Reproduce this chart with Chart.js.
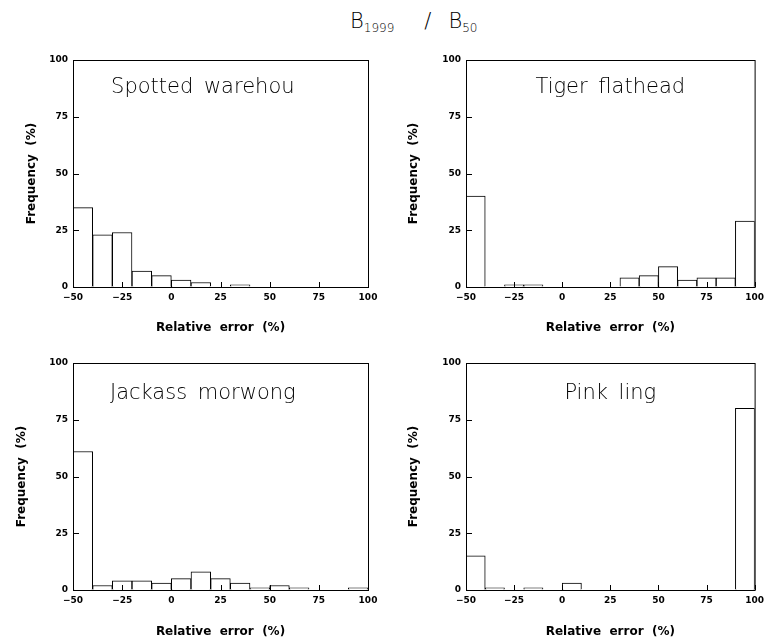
<!DOCTYPE html>
<html><head><meta charset="utf-8">
<script src="https://cdn.jsdelivr.net/npm/chart.js@4.4.1/dist/chart.umd.min.js"></script>
<style>
html,body{margin:0;padding:0;background:#fff;}
#page{position:relative;width:769px;height:644px;overflow:hidden;background:#fff;}
canvas{position:absolute;}
#title{position:absolute;left:350px;top:9px;font-family:"DejaVu Sans";font-weight:200;font-size:21px;color:#000;white-space:nowrap;line-height:normal;}
#title sub{font-size:12px;vertical-align:-4px;line-height:0;}
#title .sl{margin-left:30px;}
#title .b2{margin-left:17px;}
</style></head>
<body><div id="page">
<div id="title">B<sub>1999</sub><span class="sl">/</span><span class="b2">B</span><sub>50</sub></div>
<canvas id="c1" width="384" height="300" style="left:0;top:40px;width:384px;height:300px"></canvas>
<canvas id="c2" width="385" height="300" style="left:384px;top:40px;width:385px;height:300px"></canvas>
<canvas id="c3" width="384" height="304" style="left:0;top:340px;width:384px;height:304px"></canvas>
<canvas id="c4" width="385" height="304" style="left:384px;top:340px;width:385px;height:304px"></canvas>
</div>
<script>
// Bin centres of the relative-error histogram (%)
const binCenters = [-45, -35, -25, -15, -5, 5, 15, 25, 35, 45, 55, 65, 75, 85, 95];
// Frequencies (%) per bin
const spottedWarehou = [35, 23, 24, 7, 5, 3, 2, 0, 1, 0, 0, 0, 0, 0, 0];
const tigerFlathead  = [40, 0, 1, 1, 0, 0, 0, 0, 4, 5, 9, 3, 4, 4, 29];
const jackassMorwong = [61, 2, 4, 4, 3, 5, 8, 5, 3, 1, 2, 1, 0, 0, 1];
const pinkLing       = [15, 1, 0, 1, 0, 3, 0, 0, 0, 0, 0, 0, 0, 0, 80];
const speciesNames = ['Spotted warehou', 'Tiger flathead', 'Jackass morwong', 'Pink ling'];
const xTickValues = [-50, -25, 0, 25, 50, 75, 100];
const yTickValues = [0, 25, 50, 75, 100];
const xAxisTitle = 'Relative  error  (%)';
const yAxisTitle = 'Frequency  (%)';

const framePlugin = {
  id: 'frame',
  afterDraw(chart, args, opts) {
    const {ctx, chartArea: a, scales: {x, y}} = chart;
    ctx.save();
    ctx.strokeStyle = '#000';
    ctx.lineWidth = 1;
    ctx.strokeRect(a.left + 0.5, a.top + 0.5, a.right - a.left, a.bottom - a.top);
    ctx.beginPath();
    x.ticks.forEach(t => {
      const px = Math.round(x.getPixelForValue(t.value)) + 0.5;
      ctx.moveTo(px, a.bottom); ctx.lineTo(px, a.bottom - 5);
    });
    y.ticks.forEach(t => {
      const py = Math.round(y.getPixelForValue(t.value)) + 0.5;
      ctx.moveTo(a.left, py); ctx.lineTo(a.left + 6, py);
    });
    ctx.stroke();
    ctx.fillStyle = '#000';
    ctx.font = '200 21px "DejaVu Sans"';
    ctx.textAlign = 'center';
    ctx.textBaseline = 'alphabetic';
    try { ctx.wordSpacing = '4px'; } catch (e) {}
    ctx.fillText(opts.text, x.getPixelForValue(opts.atX), y.getPixelForValue(opts.atY));
    ctx.restore();
  }
};

function makeChart(id, values, name, cfg) {
  const data = binCenters.map((c, i) => ({x: c, y: values[i]}));
  return new Chart(document.getElementById(id), {
    type: 'bar',
    data: {datasets: [{
      data: data,
      backgroundColor: '#fff',
      borderColor: '#000',
      borderWidth: 1,
      barPercentage: 1,
      categoryPercentage: 1
    }]},
    options: {
      responsive: false,
      animation: false,
      events: [],
      layout: {padding: {left: 0, right: cfg.padRight, top: cfg.padTop, bottom: 0}},
      plugins: {
        legend: {display: false},
        tooltip: {enabled: false},
        frame: {text: name, atX: cfg.labelX, atY: cfg.labelY}
      },
      scales: {
        x: {
          type: 'linear', min: -50, max: 100, offset: false,
          afterBuildTicks: s => { s.ticks = xTickValues.map(v => ({value: v})); },
          afterFit: s => { s.height = cfg.xHeight; },
          grid: {display: true, drawOnChartArea: false, drawTicks: false},
          border: {display: true, color: '#000', width: 1},
          ticks: {
            padding: 5, maxRotation: 0, autoSkip: false, color: '#000',
            font: {family: 'DejaVu Sans', size: 9, weight: 'bold'},
            callback: v => String(v).replace('-', '\u2212')
          },
          title: {display: true, text: xAxisTitle, color: '#000',
            font: {family: 'DejaVu Sans', size: 12, weight: 'bold'},
            padding: {top: 0, bottom: 5}}
        },
        y: {
          type: 'linear', min: 0, max: 100,
          afterBuildTicks: s => { s.ticks = yTickValues.map(v => ({value: v})); },
          afterFit: s => { s.width = cfg.yWidth; },
          grid: {display: true, drawOnChartArea: false, drawTicks: false},
          border: {display: true, color: '#000', width: 1},
          ticks: {padding: 5, color: '#000',
            font: {family: 'DejaVu Sans', size: 9, weight: 'bold'}},
          title: {display: true, text: yAxisTitle, color: '#000',
            font: {family: 'DejaVu Sans', size: 12, weight: 'bold'},
            padding: {top: cfg.yTitlePad, bottom: 0}}
        }
      }
    },
    plugins: [framePlugin]
  });
}

makeChart('c1', spottedWarehou, speciesNames[0], {padRight: 16, padTop: 20, xHeight: 53, yWidth: 73, yTitlePad: 25, labelX: 16, labelY: 85.5});
makeChart('c2', tigerFlathead, speciesNames[1], {padRight: 9, padTop: 20, xHeight: 53, yWidth: 82, yTitlePad: 23, labelX: 25, labelY: 85.5});
makeChart('c3', jackassMorwong, speciesNames[2], {padRight: 16, padTop: 23, xHeight: 54, yWidth: 73, yTitlePad: 15, labelX: 16, labelY: 84});
makeChart('c4', pinkLing, speciesNames[3], {padRight: 9, padTop: 23, xHeight: 54, yWidth: 82, yTitlePad: 23, labelX: 25, labelY: 84});
</script>
</body></html>
